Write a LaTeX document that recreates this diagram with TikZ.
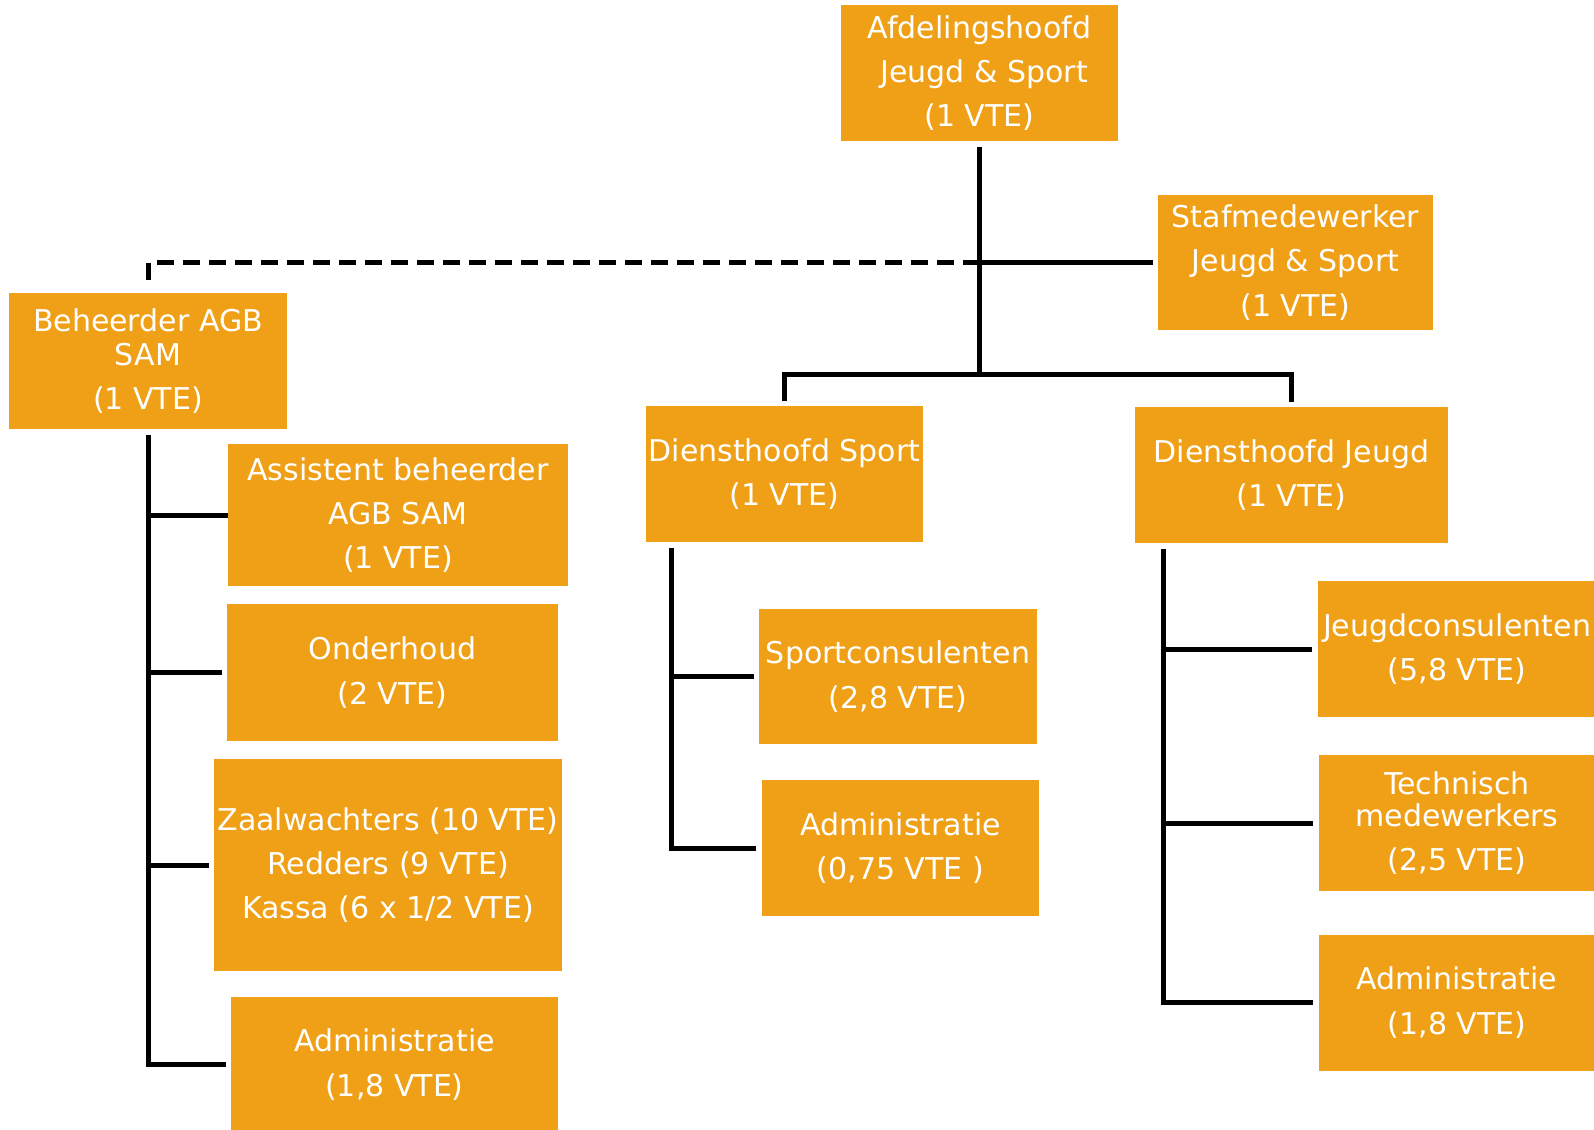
\documentclass[tikz,border=0pt]{standalone}
\usepackage{fontspec}
\setmainfont{DejaVu Sans}
\definecolor{afdorange}{RGB}{240,160,22}

\begin{document}
\begin{tikzpicture}[x=0.5pt, y=-0.5pt,
   box/.style={fill=afdorange, text=white, align=center, inner sep=0pt,
      minimum height=68pt, font={\fontsize{15pt}{22.2pt}\selectfont}},
   conn/.style={line width=2.5pt, black},
   dashlink/.style={conn, dash pattern=on 8.5pt off 4.5pt}]
\useasboundingbox (0,0) rectangle (1594,1129);

\node[box, minimum width=138.5pt] (afd) at (979.5,73) {Afdelingshoofd\\~Jeugd \& Sport\\(1 VTE)};
\node[box, minimum width=137.5pt, minimum height=67.5pt] (staf) at (1295.5,262.5) {Stafmedewerker\\Jeugd \& Sport\\(1 VTE)};
\node[box, minimum width=139pt] (beh) at (148,361) {Beheerder AGB\\[-5pt]SAM\\(1 VTE)};
\node[box, minimum width=138.5pt] (sport) at (784.5,474) {Diensthoofd Sport\\(1 VTE)};
\node[box, minimum width=156.5pt] (jeugd) at (1291.5,475) {Diensthoofd Jeugd\\(1 VTE)};

% Beheerder AGB SAM
\node[box, minimum width=170pt, minimum height=71pt] (asst) at (398,515) {Assistent beheerder\\AGB SAM\\(1 VTE)};
\node[box, minimum width=165.5pt, minimum height=68.5pt] (onder) at (392.5,672.5) {Onderhoud\\(2 VTE)};
\node[box, minimum width=174pt, minimum height=106pt] (zaal) at (388,865) {Zaalwachters (10 VTE)\\Redders (9 VTE)\\Kassa (6 x 1/2 VTE)};
\node[box, minimum width=163.5pt, minimum height=67.5pt] (bhadm) at (394.5,1064.5) {Administratie\\(1,8 VTE)};

% Sport
\node[box, minimum width=139pt, minimum height=67.5pt] (spcons) at (898,676.5) {Sportconsulenten\\(2,8 VTE)};
\node[box, minimum width=138.5pt] (spadm) at (900.5,848) {Administratie\\(0,75 VTE )};

% Jeugd
\node[box, minimum width=139pt] (jgcons) at (1457,649) {Jeugdconsulenten\\(5,8 VTE)};
\node[box, minimum width=138pt] (tech) at (1457,823) {Technisch\\[-6pt]medewerkers\\(2,5 VTE)};
\node[box, minimum width=138pt] (jgadm) at (1457,1002.5) {Administratie\\(1,8 VTE)};

\coordinate (hub) at (979.5,374);
\coordinate (split) at (afd.south |- staf.west);
\draw[conn] ([yshift=-3pt]afd.south) -- (hub);
\draw[conn] (split) -- ([xshift=-2.5pt]staf.west);
\draw[dashlink] (split) -| ([yshift=2.5pt]beh.north);
\draw[conn] ([yshift=2.5pt]sport.north) |- (hub) -| ([yshift=2.5pt]jeugd.north);

\coordinate (bhtop) at ([yshift=-3pt]beh.south);
\draw[conn] (bhtop) |- ([xshift=-2.5pt]bhadm.west);
\draw[conn] (bhtop |- asst.west) -- (asst.west);
\draw[conn] (bhtop |- onder.west) -- ([xshift=-2.5pt]onder.west);
\draw[conn] (bhtop |- zaal.west) -- ([xshift=-2.5pt]zaal.west);

\coordinate (sptop) at ([xshift=13pt,yshift=-3pt]sport.south west);
\draw[conn] (sptop) |- ([xshift=-3pt]spadm.west);
\draw[conn] (sptop |- spcons.west) -- ([xshift=-2.5pt]spcons.west);

\coordinate (jgtop) at ([xshift=14.5pt,yshift=-3pt]jeugd.south west);
\draw[conn] (jgtop) |- ([xshift=-3pt]jgadm.west);
\foreach \n in {jgcons, tech}
   \draw[conn] (jgtop |- \n.west) -- ([xshift=-3pt]\n.west);
\end{tikzpicture}
\end{document}
